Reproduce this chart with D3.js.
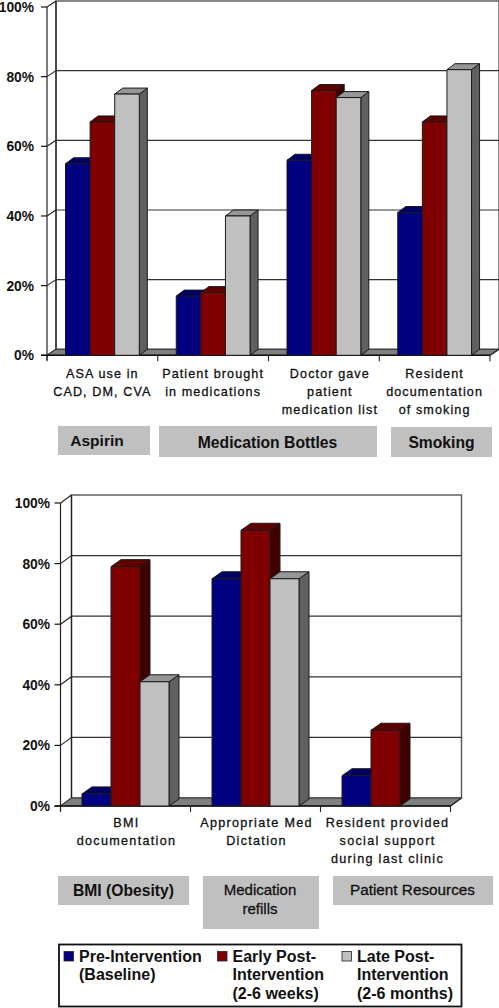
<!DOCTYPE html>
<html><head><meta charset="utf-8">
<script src="https://cdn.jsdelivr.net/npm/d3@7"></script>
<style>
html,body{margin:0;padding:0;background:#fff}
svg{display:block}
text{font-family:"Liberation Sans",Arial,sans-serif;fill:#111}
</style></head><body>
<svg id="c" width="499" height="1008"></svg>
<script>
// ---- data ----
const seriesNames = ["Pre-Intervention (Baseline)","Early Post-Intervention (2-6 weeks)","Late Post-Intervention (2-6 months)"];
const tickLabels = [0,20,40,60,80,100];
const topCategories = [["ASA use in","CAD, DM, CVA"],["Patient brought","in medications"],["Doctor gave","patient","medication list"],["Resident","documentation","of smoking"]];
const topPre   = [55,17,56,41];
const topEarly = [67,18,76,67];
const topLate  = [75,40,74,82];
const bottomCategories = [["BMI","documentation"],["Appropriate Med","Dictation"],["Resident provided","social support","during last clinic"]];
const bottomPre   = [4,75,10];
const bottomEarly = [79,91,25];
const bottomLate  = [41,75,0];
const topBoxes = [["Aspirin"],["Medication Bottles"],["Smoking"]];
const bottomBoxes = [["BMI (Obesity)"],["Medication","refills"],["Patient Resources"]];
const legendLines = [["Pre-Intervention","(Baseline)"],["Early Post-","Intervention","(2-6 weeks)"],["Late Post-","Intervention","(2-6 months)"]];

// ---- layout and styles ----
const colors = [
 {front:"#000080",top:"#000062",side:"#00004a"},
 {front:"#800000",top:"#5e0000",side:"#400000"},
 {front:"#c0c0c0",top:"#969696",side:"#606060"}];
const svg = d3.select("#c");

function chart(o){
  const g = svg.append("g");
  const x = d3.scaleBand().domain(o.cats.map((_,i)=>i)).range([o.x0,o.x1]);
  const y = d3.scaleLinear().domain([0,100]).range([o.y0,o.y100]);
  const ink="#1a1a1a";
  const poly=(pts,fill,stroke=ink,sw=1)=>g.append("polygon").attr("points",pts.map(p=>p.join(",")).join(" ")).attr("fill",fill).attr("stroke",stroke).attr("stroke-width",sw).attr("stroke-linejoin","miter");
  const line=(a,b,c=ink,w=1.2)=>g.append("line").attr("x1",a[0]).attr("y1",a[1]).attr("x2",b[0]).attr("y2",b[1]).attr("stroke",c).attr("stroke-width",w);
  const D=o.dx,E=o.dy;
  // back wall
  g.append("rect").attr("x",o.x0+D).attr("y",y(100)-E).attr("width",o.x1-o.x0).attr("height",y(0)-y(100)).attr("fill","#fff").attr("stroke","#555").attr("stroke-width",1.4);
  // gridlines and left wall
  tickLabels.slice(1,-1).forEach(t=>line([o.x0+D,y(t)-E],[o.x1+D,y(t)-E],"#333",1.2));
  tickLabels.forEach(t=>{
    line([o.x0-6,y(t)],[o.x0,y(t)],"#111",1.2);
    line([o.x0,y(t)],[o.x0+D,y(t)-E],"#222",1.1);
    g.append("text").attr("x",o.labelX).attr("y",y(t)+o.labelDy).attr("text-anchor","end").attr("font-size",13.8).attr("font-weight",700).text(t+"%");
  });
  line([o.x0,y(100)],[o.x0,y(0)+5],"#222",1.2);
  line([o.x0+D,y(100)-E],[o.x0+D,y(0)-E],"#222",1.2);
  // floor
  poly([[o.x0,y(0)],[o.x0+D,y(0)-E],[o.x1+D,y(0)-E],[o.x1,y(0)]],"#808080","#333");
  line([o.x1,y(0)],[o.x1+D,y(0)-E],"#222",1.2);
  line([o.x0-6,y(0)],[o.x1,y(0)],"#111",1.4);
  x.domain().concat([o.cats.length]).forEach(i=>{
    const px=o.x0+i*x.bandwidth();
    line([px,y(0)],[px,y(0)+6],"#222",1.1);
  });
  // bars
  const s=d3.scaleBand().domain([0,1,2]).range([o.pad,o.pad+3*o.barW]);
  o.cats.forEach((_,i)=>{
    o.series.forEach((vals,k)=>{
      const v=vals[i]; if(v<=0) return;
      const l=x(i)+s(k), r=l+s.bandwidth(), t=y(v), b=y(0), c=colors[k], d=o.bx, e=o.by;
      poly([[r,t],[r+d,t-e],[r+d,b-e],[r,b]],c.side);
      poly([[l,t],[l+d,t-e],[r+d,t-e],[r,t]],c.top);
      poly([[l,t],[r,t],[r,b],[l,b]],c.front);
    });
  });
  // category labels
  o.cats.forEach((lines,i)=>{
    const t=g.append("text").attr("text-anchor","middle").attr("font-size",o.catSize).attr("letter-spacing",o.catSpacing).attr("stroke","#111").attr("stroke-width",0.3);
    lines.forEach((L,j)=>t.append("tspan").attr("x",x(i)+x.bandwidth()/2+o.catShift[i]).attr("y",o.catY+j*18).text(L));
  });
}

chart({cats:topCategories,series:[topPre,topEarly,topLate],x0:47,x1:490,y0:355.3,y100:7,dx:9,dy:6,bx:8,by:6,pad:18.5,barW:24.6,labelX:34,labelDy:5,catY:378,catSize:12.6,catSpacing:1.1,catShift:[0,0,6,0]});
chart({cats:bottomCategories,series:[bottomPre,bottomEarly,bottomLate],x0:60.5,x1:450.5,y0:806,y100:503,dx:11,dy:8,bx:10,by:7,pad:21.5,barW:29,labelX:50,labelDy:5,catY:827,catSize:12.6,catSpacing:1.3,catShift:[1,1,2]});

// annotation boxes
function box(x,y,w,h,lines,size,weight,textX,base){
  svg.append("rect").attr("x",x).attr("y",y).attr("width",w).attr("height",h).attr("fill","#c0c0c0");
  lines.forEach((L,j)=>svg.append("text").attr("x",textX).attr("y",base+j*19).attr("text-anchor","middle").attr("font-size",size).attr("font-weight",weight).attr("stroke","#111").attr("stroke-width",weight<700?0.3:0).text(L));
}
box(58,426,92,29,topBoxes[0],15.5,700,97,446);
box(159,426,218,31,topBoxes[1],15.7,700,267.5,448);
box(391,427,101,30,topBoxes[2],15.7,700,441.5,448);
box(58,876,131,29,bottomBoxes[0],15.7,700,123.5,896);
box(203,876,116,53,bottomBoxes[1],15,400,260,895);
box(333,876,160,29,bottomBoxes[2],15.3,400,412.5,895);

// legend
svg.append("rect").attr("x",59).attr("y",944.5).attr("width",402.5).attr("height",62).attr("fill","#fff").attr("stroke","#111").attr("stroke-width",1.8);
const legStarts=[64,217.5,342];
legendLines.forEach((lines,k)=>{
  svg.append("rect").attr("x",legStarts[k]).attr("y",951.5).attr("width",9.5).attr("height",9.5).attr("fill",colors[k].front).attr("stroke","#222").attr("stroke-width",0.8);
  lines.forEach((L,j)=>svg.append("text").attr("x",legStarts[k]+15).attr("y",962+j*18.4).attr("font-size",16).attr("font-weight",700).text(L));
});
</script>
</body></html>
